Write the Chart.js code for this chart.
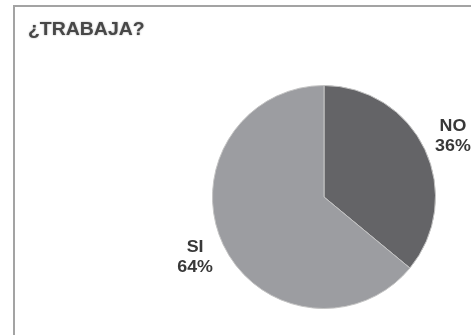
<!DOCTYPE html>
<html>
<head>
<meta charset="utf-8">
<script src="https://cdn.jsdelivr.net/npm/chart.js@4/dist/chart.umd.min.js"></script>
<style>
  html, body { margin: 0; padding: 0; background: #fff; }
  canvas { display: block; }
</style>
</head>
<body>
<canvas id="pieChart" width="471" height="335"></canvas>
<script>
const chartTitle = '¿TRABAJA?';
const categories = ['NO', 'SI'];
const percents = [36, 64];
const sliceColors = ['#646467', '#9c9da1'];

// marco + título
const framePlugin = {
  id: 'frame',
  beforeDraw(chart) {
    const ctx = chart.ctx;
    ctx.save();
    ctx.fillStyle = '#fff';
    ctx.fillRect(0, 0, chart.width, chart.height);
    ctx.strokeStyle = '#a3a3a3';
    ctx.lineWidth = 2;
    ctx.strokeRect(14, 6, chart.width + 20, chart.height + 20);
    ctx.restore();
  },
  afterDraw(chart) {
    const ctx = chart.ctx;
    ctx.save();
    ctx.translate(28, 35);
    ctx.scale(1.08, 1);
    ctx.font = 'bold 18px "Liberation Sans", Arial, sans-serif';
    ctx.fillStyle = '#474747';
    ctx.shadowColor = 'rgba(0,0,0,0.35)';
    ctx.shadowBlur = 2;
    ctx.textBaseline = 'alphabetic';
    ctx.fillText(chartTitle, 0, 0);
    ctx.restore();
  }
};

// etiquetas fuera del pastel
const outLabels = {
  id: 'outLabels',
  afterDatasetsDraw(chart) {
    const ctx = chart.ctx;
    const meta = chart.getDatasetMeta(0);
    meta.data.forEach((arc, i) => {
      const mid = (arc.startAngle + arc.endAngle) / 2;
      const d = arc.outerRadius + 31;
      const x = arc.x + Math.cos(mid) * d;
      const y = arc.y + Math.sin(mid) * d;
      ctx.save();
      ctx.font = 'bold 17px "Liberation Sans", Arial, sans-serif';
      ctx.fillStyle = '#383838';
      ctx.textAlign = 'center';
      ctx.textBaseline = 'middle';
      ctx.translate(x, y);
      ctx.scale(1.05, 1);
      ctx.fillText(categories[i], 0, -10);
      ctx.fillText(percents[i] + '%', 0, 10);
      ctx.restore();
    });
  }
};

new Chart(document.getElementById('pieChart'), {
  type: 'pie',
  data: {
    labels: categories,
    datasets: [{
      data: percents,
      backgroundColor: sliceColors,
      borderColor: '#c4c4c4',
      borderWidth: 1
    }]
  },
  options: {
    responsive: false,
    animation: false,
    layout: { padding: { left: 212, right: 35, top: 85, bottom: 26 } },
    plugins: {
      legend: { display: false },
      tooltip: { enabled: false },
      title: { display: false }
    }
  },
  plugins: [framePlugin, outLabels]
});
</script>
</body>
</html>
